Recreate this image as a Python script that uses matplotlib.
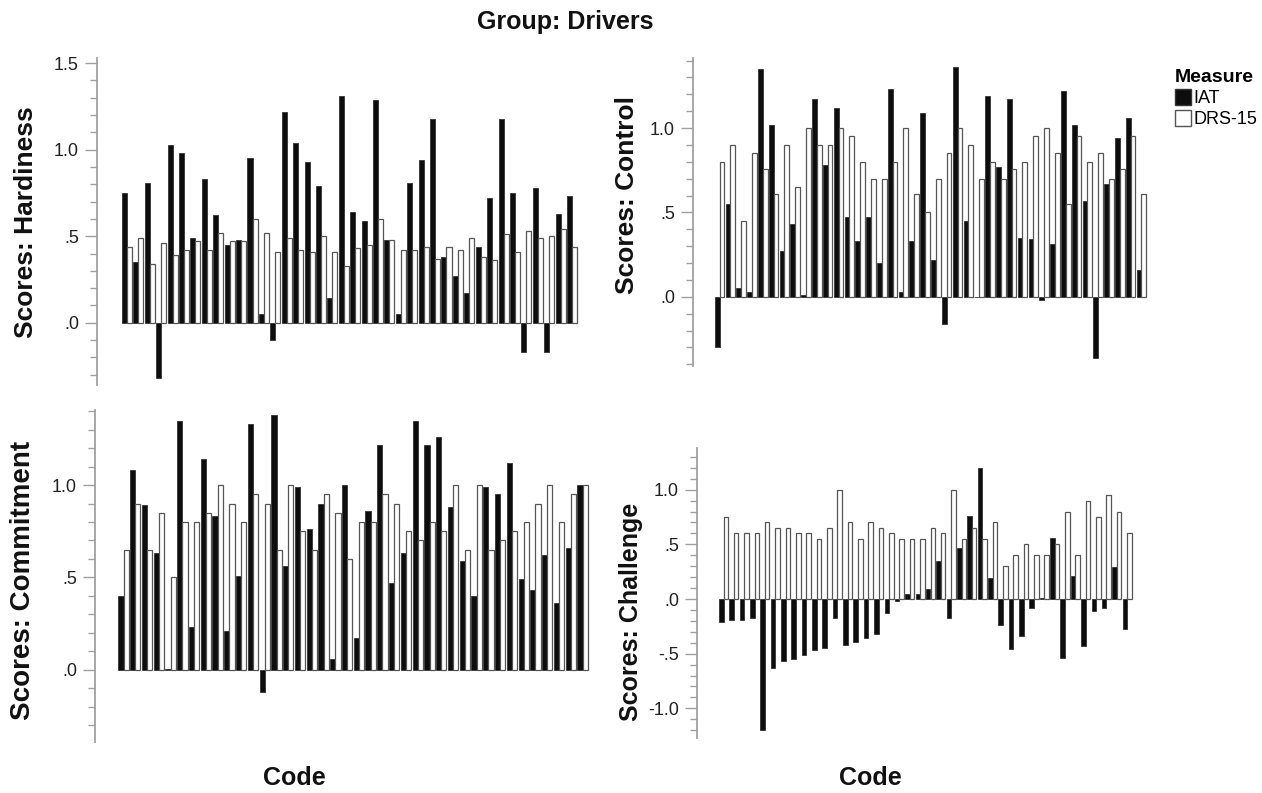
import numpy as np
import matplotlib
matplotlib.use("Agg")
import matplotlib.pyplot as plt
from matplotlib.patches import Patch
from matplotlib.ticker import FixedLocator, FuncFormatter, MultipleLocator

plt.rcParams['font.family'] = ['Liberation Sans', 'DejaVu Sans']

codes = list(range(1, 41))
measures = ["IAT", "DRS-15"]

hardiness_iat = [0.75, 0.35, 0.81, -0.32, 1.03, 0.98, 0.49, 0.83, 0.62, 0.45, 0.48, 0.95, 0.05, -0.10,
                 1.22, 1.04, 0.93, 0.79, 0.14, 1.31, 0.64, 0.59, 1.29, 0.48, 0.05, 0.81, 0.94, 1.18,
                 0.38, 0.27, 0.17, 0.44, 0.72, 1.18, 0.75, -0.17, 0.78, -0.17, 0.63, 0.73]
hardiness_drs = [0.44, 0.49, 0.34, 0.46, 0.39, 0.42, 0.47, 0.42, 0.52, 0.47, 0.47, 0.60, 0.52, 0.41,
                 0.49, 0.42, 0.41, 0.50, 0.41, 0.33, 0.43, 0.45, 0.60, 0.48, 0.42, 0.42, 0.44, 0.37,
                 0.44, 0.42, 0.49, 0.38, 0.36, 0.51, 0.41, 0.53, 0.49, 0.50, 0.54, 0.44]

control_iat = [-0.30, 0.55, 0.05, 0.03, 1.35, 1.02, 0.27, 0.43, 0.01, 1.17, 0.78, 1.12, 0.47, 0.33,
               0.47, 0.20, 1.23, 0.03, 0.33, 1.09, 0.22, -0.16, 1.36, 0.45, 0.0, 1.19, 0.77, 1.17,
               0.35, 0.34, -0.02, 0.31, 1.22, 1.02, 0.57, -0.36, 0.67, 0.94, 1.06, 0.16]
control_drs = [0.80, 0.90, 0.45, 0.85, 0.76, 0.61, 0.90, 0.65, 1.00, 0.90, 0.90, 1.00, 0.95, 0.80,
               0.70, 0.70, 0.80, 1.00, 0.61, 0.50, 0.70, 0.85, 1.00, 0.90, 0.70, 0.80, 0.70, 0.76,
               0.80, 0.95, 1.00, 0.85, 0.55, 0.95, 0.80, 0.85, 0.70, 0.76, 0.95, 0.61]

commitment_iat = [0.40, 1.08, 0.89, 0.63, 0.005, 1.35, 0.23, 1.14, 0.83, 0.21, 0.51, 1.33, -0.12, 1.38,
                  0.56, 0.99, 0.76, 0.90, 0.06, 1.00, 0.17, 0.86, 1.22, 0.47, 0.63, 1.35, 1.22, 1.26,
                  0.88, 0.59, 0.40, 0.99, 0.95, 1.12, 0.49, 0.43, 0.62, 0.36, 0.66, 1.00]
commitment_drs = [0.65, 0.90, 0.65, 0.85, 0.50, 0.80, 0.80, 0.85, 1.00, 0.90, 0.80, 0.95, 0.90, 0.65,
                  1.00, 0.75, 0.65, 0.95, 0.85, 0.60, 0.80, 0.80, 0.95, 0.90, 0.75, 0.70, 0.80, 0.75,
                  1.00, 0.65, 1.00, 0.65, 0.70, 0.75, 0.80, 0.90, 1.00, 0.80, 0.95, 1.00]

challenge_iat = [-0.21, -0.19, -0.19, -0.17, -1.20, -0.63, -0.57, -0.55, -0.51, -0.47, -0.45, -0.17,
                 -0.42, -0.39, -0.36, -0.32, -0.13, -0.02, 0.05, 0.05, 0.09, 0.35, -0.17, 0.47, 0.76,
                 1.20, 0.19, -0.24, -0.46, -0.34, -0.08, 0.01, 0.56, -0.54, 0.21, -0.43, -0.11, -0.08,
                 0.29, -0.27]
challenge_drs = [0.75, 0.60, 0.60, 0.60, 0.70, 0.65, 0.65, 0.60, 0.60, 0.55, 0.65, 1.00, 0.70, 0.55,
                 0.70, 0.65, 0.60, 0.55, 0.55, 0.55, 0.65, 0.60, 1.00, 0.55, 0.65, 0.55, 0.70, 0.30,
                 0.40, 0.50, 0.40, 0.40, 0.50, 0.80, 0.40, 0.90, 0.75, 0.95, 0.80, 0.60]

W, H = 1262, 793
fig = plt.figure(figsize=(W / 100, H / 100), dpi=100)

def px_axes(L, R, T, B):
    return fig.add_axes([L / W, 1 - B / H, (R - L) / W, (B - T) / H])

def fmt(v, pos):
    if abs(v) < 1e-9:
        return ".0"
    s = f"{v:.1f}"
    if s.startswith("0."):
        s = s[1:]
    elif s.startswith("-0."):
        s = "-" + s[2:]
    return s

# (frame L, R, T, B), first pair centre px, pair spacing px, ylim, major ticks, label, label pos, label size
panels = [
    ((97, 592, 58, 385), 127.0, 11.41, (-0.36, 1.53), [0, 0.5, 1.0, 1.5],
     "Scores: Hardiness", (26, 222), 19, hardiness_iat, hardiness_drs),
    ((693, 1155, 58, 366), 719.5, 10.82, (-0.41, 1.415), [0, 0.5, 1.0],
     "Scores: Control", (627, 195), 19, control_iat, control_drs),
    ((95, 597, 410, 742), 123.5, 11.77, (-0.392, 1.407), [0, 0.5, 1.0],
     "Scores: Commitment", (23, 580), 20, commitment_iat, commitment_drs),
    ((697, 1142, 448, 738), 723.5, 10.35, (-1.271, 1.381), [-1.0, -0.5, 0, 0.5, 1.0],
     "Scores: Challenge", (631, 612), 18, challenge_iat, challenge_drs),
]

x = np.arange(len(codes))
bw = 0.44
for (L, R, T, B), c0, sp, ylim, majors, label, (lx, ly), lsize, iat, drs in panels:
    ax = px_axes(L, R, T, B)
    ax.set_xlim((L - c0) / sp, (R - c0) / sp)
    ax.set_ylim(*ylim)
    ax.bar(x - bw / 2, iat, width=bw, color="#0d0d0d", edgecolor="#333333", linewidth=0.6)
    ax.bar(x + bw / 2, drs, width=bw, color="white", edgecolor="#555555", linewidth=0.9)
    for s in ["top", "right", "bottom"]:
        ax.spines[s].set_visible(False)
    ax.spines["left"].set_color("#a0a0a0")
    ax.spines["left"].set_linewidth(1.3)
    ax.set_xticks([])
    ax.yaxis.set_major_locator(FixedLocator(majors))
    ax.yaxis.set_minor_locator(MultipleLocator(0.1))
    ax.yaxis.set_major_formatter(FuncFormatter(fmt))
    ax.tick_params(axis="y", which="major", length=9, width=1.0, color="#a0a0a0",
                   labelsize=13, labelcolor="#222222", pad=4)
    ax.tick_params(axis="y", which="minor", length=5, width=1.0, color="#a0a0a0")
    fig.text(lx / W, 1 - ly / H, label, rotation=90, ha="center", va="center",
             fontsize=lsize, fontweight="bold", color="#111111")

fig.text(565 / W, 1 - 22 / H, "Group: Drivers", ha="center", va="center",
         fontsize=18, fontweight="bold", color="#111111")
fig.text(294 / W, 1 - 778 / H, "Code", ha="center", va="center",
         fontsize=18, fontweight="bold", color="#111111")
fig.text(870 / W, 1 - 778 / H, "Code", ha="center", va="center",
         fontsize=18, fontweight="bold", color="#111111")

handles = [Patch(facecolor="#0d0d0d", edgecolor="#333333"),
           Patch(facecolor="white", edgecolor="#555555")]
leg = fig.legend(handles, measures, title="Measure", loc="upper left",
                 bbox_to_anchor=(1166 / W, 1 - 60 / H), frameon=False,
                 handlelength=0.9, handleheight=1.0, handletextpad=0.1,
                 labelspacing=0.15, borderpad=0.0, fontsize=13, alignment="left")
leg.get_title().set_fontweight("bold")
leg.get_title().set_fontsize(14)

fig.savefig("out.png", dpi=100)
